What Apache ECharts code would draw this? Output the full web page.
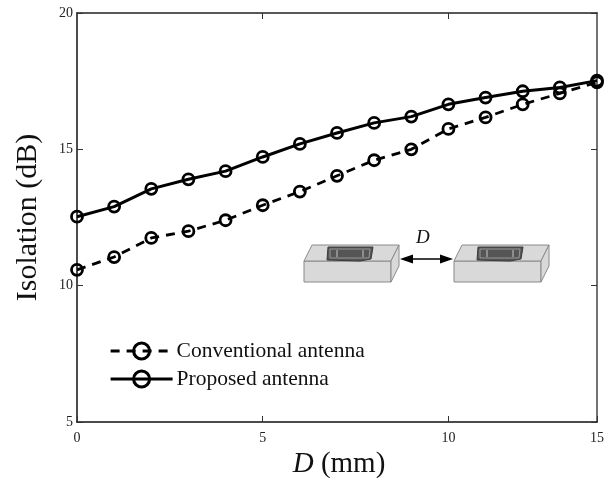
<!DOCTYPE html>
<html><head><meta charset="utf-8">
<style>html,body{margin:0;padding:0;background:#fff}#c{width:612px;height:478px}</style>
<script src="https://cdn.jsdelivr.net/npm/echarts@6/dist/echarts.min.js"></script>
</head><body><div id="c"></div>
<script>
const categories = ['0','1','2','3','4','5','6','7','8','9','10','11','12','13','15'];
const conventional = [10.58,11.05,11.75,12.0,12.4,12.95,13.45,14.03,14.6,15.0,15.75,16.17,16.65,17.05,17.46];
const proposed = [12.53,12.9,13.55,13.9,14.2,14.72,15.2,15.6,15.97,16.2,16.65,16.9,17.13,17.27,17.52];
const xTickLabels = ['0','5','10','15'];
const FONT = '"Liberation Serif"';
const chart = echarts.init(document.getElementById('c'), null, {renderer:'canvas'});
const gray='#d9d9d9', edge='#8a8a8a';
function box(x){
  const y=261;
  const st={fill:gray,stroke:edge,lineWidth:1};
  const poly=(pts,style)=>({type:'polygon',shape:{points:pts.map(p=>[p[0]+x,p[1]+y])},style:style||st,silent:true});
  const bar=(x1,y1,x2,y2)=>({type:'line',shape:{x1:x1+x,y1:y1+y,x2:x2+x,y2:y2+y},style:{stroke:'#c8c8c8',lineWidth:1},silent:true});
  return [
    poly([[0,0],[87,0],[87,21],[0,21]]),
    poly([[0,0],[8,-16],[95,-16],[87,0]]),
    poly([[87,0],[95,-16],[95,5],[87,21]]),
    poly([[23,-1],[24,-14],[69,-14],[67,-2],[56,0]],{fill:'#555',stroke:'#3a3a3a',lineWidth:1}),
    poly([[26,-12],[66,-12],[65,-3],[26,-3]],{fill:'none',stroke:'#999',lineWidth:1}),
    bar(33,-11,33,-4),bar(59,-11,59,-4)
  ];
}
chart.setOption({
  animation:false,
  backgroundColor:'#fff',
  grid:{left:77,right:15,top:13,bottom:56,containLabel:false,outerBoundsMode:'none'},
  legend:{
    left:104,top:335,orient:'vertical',itemWidth:62,itemHeight:20,itemGap:6,
    lineStyle:{width:3.2},
    itemStyle:{borderWidth:3},
    textStyle:{fontFamily:FONT,fontSize:21.5,color:'#111',padding:[0,0,0,-1]},
    data:['Conventional antenna','Proposed antenna']
  },
  xAxis:[{
    type:'category',data:categories,boundaryGap:false,position:'bottom',
    axisLine:{lineStyle:{color:'#111',width:1.5}},
    axisTick:{inside:true,length:6,lineStyle:{color:'#333',width:1},
      interval:i=>xTickLabels.includes(categories[i])},
    axisLabel:{fontFamily:FONT,fontSize:14,color:'#222',margin:9,
      interval:i=>xTickLabels.includes(categories[i])},
    name:'{i|D} (mm)',nameLocation:'middle',nameGap:25,
    nameTextStyle:{fontFamily:FONT,fontSize:29,color:'#111',padding:[0,0,0,4],rich:{i:{fontFamily:FONT,fontSize:29,fontStyle:'italic',color:'#111'}}}
  },{
    type:'category',data:categories,boundaryGap:false,position:'top',
    axisLine:{lineStyle:{color:'#222',width:1.5}},
    axisTick:{inside:true,length:6,lineStyle:{color:'#333',width:1},
      interval:i=>xTickLabels.includes(categories[i])&&i>0&&i<categories.length-1},
    axisLabel:{show:false}
  }],
  yAxis:[{
    type:'value',min:5,max:20,interval:5,position:'left',
    axisLine:{show:true,lineStyle:{color:'#111',width:1.5}},
    axisTick:{show:true,inside:true,length:6,lineStyle:{color:'#333',width:1}},
    axisLabel:{fontFamily:FONT,fontSize:14,color:'#222',margin:4},
    splitLine:{show:false},
    name:'Isolation (dB)',nameLocation:'middle',nameGap:34,nameRotate:90,
    nameTextStyle:{fontFamily:FONT,fontSize:30,color:'#111'}
  },{
    type:'value',min:5,max:20,interval:5,position:'right',
    axisLine:{show:true,lineStyle:{color:'#444',width:1.5}},
    axisTick:{show:true,inside:true,length:6,lineStyle:{color:'#333',width:1}},
    axisLabel:{show:false},splitLine:{show:false}
  }],
  series:[{
    name:'Conventional antenna',type:'line',data:conventional,symbol:'circle',symbolSize:11,
    clip:false,
    lineStyle:{color:'#000',width:2.8,type:[9,7]},
    itemStyle:{color:'rgba(255,255,255,0)',borderColor:'#000',borderWidth:2.8}
  },{
    name:'Proposed antenna',type:'line',data:proposed,symbol:'circle',symbolSize:11,
    clip:false,
    lineStyle:{color:'#000',width:3},
    itemStyle:{color:'rgba(255,255,255,0)',borderColor:'#000',borderWidth:2.8}
  }],
  graphic:[
    ...box(304),...box(454),
    {type:'line',shape:{x1:406,y1:259,x2:448,y2:259},style:{stroke:'#000',lineWidth:1.5},silent:true},
    {type:'polygon',shape:{points:[[400,259],[413,254.5],[413,263.5]]},style:{fill:'#000'},silent:true},
    {type:'polygon',shape:{points:[[453,259],[440,254.5],[440,263.5]]},style:{fill:'#000'},silent:true},
    {type:'text',left:416,top:228,style:{text:'D',fontFamily:FONT,fontStyle:'italic',fontSize:19,fill:'#111'},silent:true}
  ]
});
</script></body></html>
